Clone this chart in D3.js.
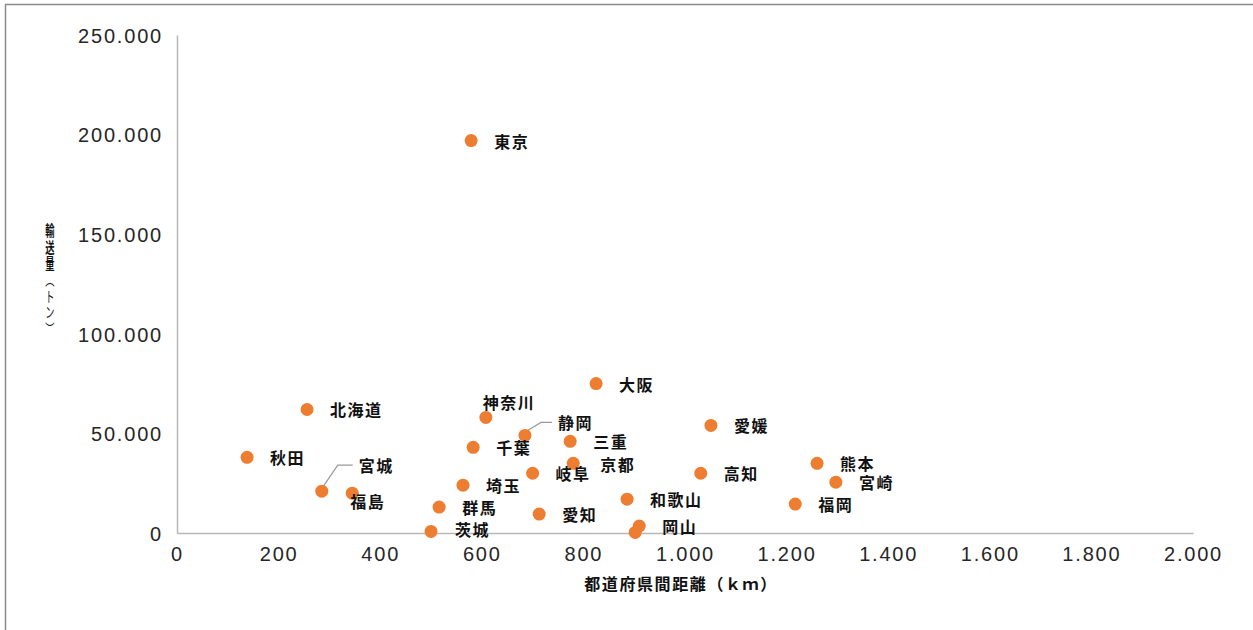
<!DOCTYPE html>
<html>
<head>
<meta charset="utf-8">
<script src="https://cdn.jsdelivr.net/npm/d3@7"></script>
<style>
  html, body { margin: 0; padding: 0; background: #fff; }
  svg { display: block; }
  .tick text { font-family: "Liberation Sans", Arial, sans-serif; font-size: 20px; fill: #262626; letter-spacing: 1.8px; }
  .lbl { font-family: "Noto Sans CJK JP", sans-serif; font-size: 16px; fill: #111; letter-spacing: 1.5px; font-weight: bold; }
  .ytitle { font-family: "Noto Sans CJK JP", sans-serif; font-size: 15px; fill: #111; writing-mode: vertical-rl; letter-spacing: 1.4px; }
</style>
</head>
<body>
<svg id="chart" width="1253" height="630"></svg>
<script>
// Prefectures: distance between prefectures (km) and transport volume (t)
const prefectures = ["東京", "北海道", "秋田", "宮城", "福島", "大阪", "神奈川", "静岡", "千葉", "三重", "京都", "岐阜",
  "埼玉", "群馬", "茨城", "愛知", "和歌山", "岡山", "", "愛媛", "高知", "熊本", "宮崎", "福岡"];
const distanceKm = [579, 256, 138, 285, 345, 825, 608, 685, 583, 774, 780, 700,
  563, 516, 500, 713, 886, 910, 902, 1051, 1031, 1260, 1297, 1217];
const volumeTons = [197000, 62000, 38000, 21000, 20000, 75000, 58000, 49000, 43000, 46000, 35000, 30000,
  24000, 13000, 800, 9500, 17000, 3500, 300, 54000, 30000, 35000, 25500, 14500];

const xTicks = [0, 200, 400, 600, 800, 1000, 1200, 1400, 1600, 1800, 2000];
const yTicks = [0, 50000, 100000, 150000, 200000, 250000];

const xTitle = "都道府県間距離（ｋｍ）";
const yTitleMain = "輸送量";
const yTitleUnit = "（トン）";

// Labels that sit away from the default right-hand position
const labelPlacement = {
  "神奈川": { dx: -3, dy: -15 },
  "静岡": { dx: 33, dy: -13, leader: true },
  "宮城": { dx: 37, dy: -26, leader: true },
  "福島": { dx: -2, dy: 8 },
  "茨城": { dx: 24, dy: -2 },
  "京都": { dx: 27, dy: 1 }
};

const svg = d3.select("#chart");
const W = 1253, H = 630;
const margin = { left: 177, right: 60, top: 35, bottom: 97 };

// frame
svg.append("line").attr("x1", 5).attr("x2", W).attr("y1", 4.5).attr("y2", 4.5)
  .attr("stroke", "#8a8a8a").attr("stroke-width", 1.5);
svg.append("line").attr("x1", 5.5).attr("x2", 5.5).attr("y1", 4).attr("y2", H)
  .attr("stroke", "#8a8a8a").attr("stroke-width", 1.5);

const x = d3.scaleLinear().domain([0, 2000]).range([margin.left, 1193]);
const y = d3.scaleLinear().domain([0, 250000]).range([533, 35]);

const loc = d3.formatLocale({ decimal: ",", thousands: ".", grouping: [3], currency: ["", ""] });
const fmt = loc.format(",");

const xAxis = svg.append("g").attr("transform", `translate(0,${y(0)})`)
  .call(d3.axisBottom(x).tickValues(xTicks).tickFormat(fmt).tickSize(0).tickPadding(14));
xAxis.select(".domain").attr("stroke", "#b8b8b8").attr("stroke-width", 1.5);

const yAxis = svg.append("g").attr("transform", `translate(${x(0)},0)`)
  .call(d3.axisLeft(y).tickValues(yTicks).tickFormat(fmt).tickSize(0).tickPadding(14));
yAxis.select(".domain").attr("stroke", "#b8b8b8").attr("stroke-width", 1.5);
yAxis.selectAll(".tick text").attr("dy", "0.36em");

// axis titles
svg.append("text")
  .attr("x", (x(0) + x(2000)) / 2 - 4).attr("y", 586)
  .attr("text-anchor", "middle").attr("dominant-baseline", "middle")
  .style("font-family", '"Noto Sans CJK JP", sans-serif').style("font-size", "16px")
  .style("letter-spacing", "1.6px").style("fill", "#111").style("font-weight", "bold")
  .text(xTitle);

const yTitle = svg.append("g").attr("transform", "translate(50,223) scale(0.62,1)")
  .append("text").attr("class", "ytitle").attr("x", 0).attr("y", 0);
yTitle.append("tspan").style("font-weight", "bold").text(yTitleMain);
yTitle.append("tspan").text(yTitleUnit);

const data = prefectures.map((name, i) => ({ name, d: distanceKm[i], v: volumeTons[i] }));

// leader lines
data.forEach(p => {
  const pl = labelPlacement[p.name];
  if (!pl || !pl.leader) return;
  const px = x(p.d), py = y(p.v);
  const lx = px + pl.dx, ly = py + pl.dy;
  svg.append("polyline")
    .attr("points", `${px + 1},${py - 4} ${px + 16},${ly} ${lx - 6},${ly}`)
    .attr("fill", "none").attr("stroke", "#999").attr("stroke-width", 1.2);
});

svg.append("g").selectAll("circle").data(data).join("circle")
  .attr("cx", p => x(p.d)).attr("cy", p => y(p.v)).attr("r", 6.5)
  .attr("fill", "#ED7D31");

svg.append("g").selectAll("text").data(data.filter(p => p.name)).join("text")
  .attr("class", "lbl")
  .attr("x", p => x(p.d) + (labelPlacement[p.name] ? labelPlacement[p.name].dx : 23))
  .attr("y", p => y(p.v) + (labelPlacement[p.name] ? labelPlacement[p.name].dy : 0))
  .attr("dominant-baseline", "central")
  .text(p => p.name);
</script>
</body>
</html>
